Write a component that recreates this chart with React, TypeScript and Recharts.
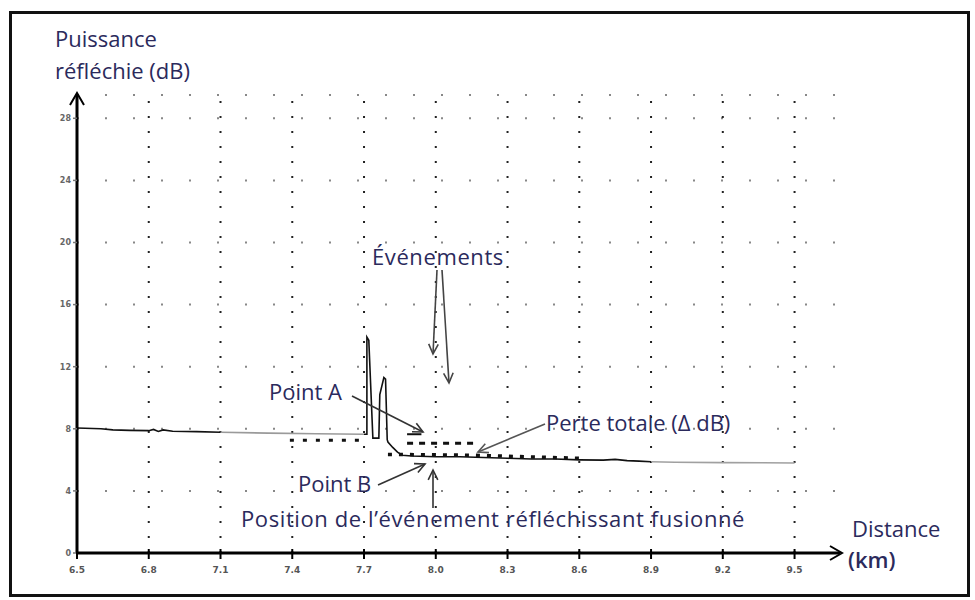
import React from 'react';
import { ComposedChart, Line, XAxis, YAxis, CartesianGrid, ReferenceLine } from 'recharts';

// OTDR trace, distance in km, reflected power in dB
const xTicks = [6.5, 6.8, 7.1, 7.4, 7.7, 8.0, 8.3, 8.6, 8.9, 9.2, 9.5];
const xTickLabels = ['6.5', '6.8', '7.1', '7.4', '7.7', '8.0', '8.3', '8.6', '8.9', '9.2', '9.5'];
const yTicks = [0, 4, 8, 12, 16, 20, 24, 28];

const traceStart = [
  { x: 6.5, y: 8.05 }, { x: 6.6, y: 8.0 }, { x: 6.65, y: 7.93 }, { x: 6.72, y: 7.9 },
  { x: 6.8, y: 7.88 }, { x: 6.82, y: 7.96 }, { x: 6.84, y: 7.83 }, { x: 6.86, y: 7.93 },
  { x: 6.9, y: 7.84 }, { x: 7.0, y: 7.82 }, { x: 7.1, y: 7.78 },
];
const traceFaded = [
  { x: 7.1, y: 7.78 }, { x: 7.3, y: 7.72 }, { x: 7.5, y: 7.68 }, { x: 7.7, y: 7.65 },
];
const traceEvent = [
  { x: 7.7, y: 7.65 }, { x: 7.712, y: 7.65 }, { x: 7.712, y: 13.9 }, { x: 7.72, y: 13.7 },
  { x: 7.737, y: 7.4 }, { x: 7.762, y: 7.4 }, { x: 7.766, y: 10.2 }, { x: 7.783, y: 11.3 },
  { x: 7.79, y: 11.2 }, { x: 7.797, y: 7.3 }, { x: 7.8, y: 7.15 }, { x: 7.82, y: 6.8 },
  { x: 7.84, y: 6.5 }, { x: 7.86, y: 6.3 }, { x: 7.9, y: 6.25 }, { x: 8.0, y: 6.2 },
  { x: 8.1, y: 6.2 }, { x: 8.2, y: 6.15 }, { x: 8.3, y: 6.1 }, { x: 8.4, y: 6.05 },
  { x: 8.5, y: 6.05 }, { x: 8.6, y: 6.0 }, { x: 8.7, y: 5.98 }, { x: 8.75, y: 6.03 },
  { x: 8.8, y: 5.95 }, { x: 8.85, y: 5.92 }, { x: 8.9, y: 5.88 },
];
const traceEnd = [
  { x: 8.9, y: 5.88 }, { x: 9.0, y: 5.85 }, { x: 9.2, y: 5.82 }, { x: 9.5, y: 5.8 },
];
const levelBefore = [{ x: 7.39, y: 7.27 }, { x: 7.7, y: 7.27 }];
const levelPointA = [{ x: 7.88, y: 7.07 }, { x: 8.18, y: 7.07 }];
const barPointA = [{ x: 7.88, y: 7.65 }, { x: 7.94, y: 7.65 }];
const levelPointB = [{ x: 7.8, y: 6.35 }, { x: 8.15, y: 6.3 }, { x: 8.6, y: 6.1 }];

const ink = '#2b2a5c';
const font = '"Open Sans", sans-serif';

const Arrow = ({ x1, y1, x2, y2, color = '#444', w = 1.6 }) => {
  const a = Math.atan2(y2 - y1, x2 - x1);
  const L = 11, s = 0.45;
  const p1 = [x2 - L * Math.cos(a - s), y2 - L * Math.sin(a - s)];
  const p2 = [x2 - L * Math.cos(a + s), y2 - L * Math.sin(a + s)];
  return (
    <g stroke={color} strokeWidth={w} fill="none">
      <line x1={x1} y1={y1} x2={x2} y2={y2} />
      <polyline points={`${p1[0]},${p1[1]} ${x2},${y2} ${p2[0]},${p2[1]}`} />
    </g>
  );
};

const XTick = ({ x, y, payload }) => (
  <g>
    <line x1={x} x2={x} y1={y - 12} y2={y - 2} stroke="#000" strokeWidth={2} />
    <text x={x} y={y + 12} textAnchor="middle" fontSize={9} fontWeight="bold" fill="#555" fontFamily="DejaVu Sans">
      {xTickLabels[xTicks.indexOf(payload.value)]}
    </text>
  </g>
);

export default function App() {
  return (
    <div style={{ position: 'absolute', left: 0, top: 0, width: 975, height: 600, background: '#fff' }}>
      <div style={{ position: 'absolute', left: 9, top: 11, width: 961, height: 586, border: '3px solid #111', boxSizing: 'border-box' }} />
      <div style={{ position: 'absolute', left: 0, top: 0 }}>
        <ComposedChart width={975} height={600} data={traceStart} margin={{ top: 95, right: 135, bottom: 22, left: 52 }}>
          <CartesianGrid vertical={false} stroke="#888" strokeDasharray="2 26" strokeWidth={2} />
          {xTicks.slice(1).map((t) => (
            <ReferenceLine key={t} x={t} stroke="#222" strokeDasharray="2 13" strokeWidth={2} />
          ))}
          <XAxis
            dataKey="x"
            type="number"
            domain={[6.5, 9.69]}
            ticks={xTicks}
            allowDataOverflow
            interval={0}
            tick={<XTick />}
            tickLine={false}
            height={25}
            axisLine={{ stroke: '#000', strokeWidth: 3 }}
          />
          <YAxis
            type="number"
            domain={[0, 29.5]}
            ticks={yTicks}
            interval={0}
            width={25}
            tickSize={4}
            tickLine={{ stroke: '#777', strokeWidth: 1.5 }}
            tick={{ fontSize: 8, fontWeight: 'bold', fill: '#666', fontFamily: 'DejaVu Sans' }}
            axisLine={{ stroke: '#000', strokeWidth: 3 }}
          />
          <Line data={traceStart} dataKey="y" stroke="#111" strokeWidth={1.6} dot={false} isAnimationActive={false} />
          <Line data={traceFaded} dataKey="y" stroke="#9a9a9a" strokeWidth={1.6} dot={false} isAnimationActive={false} />
          <Line data={traceEvent} dataKey="y" stroke="#111" strokeWidth={1.6} dot={false} isAnimationActive={false} />
          <Line data={traceEnd} dataKey="y" stroke="#a0a0a0" strokeWidth={1.6} dot={false} isAnimationActive={false} />
          <Line data={levelBefore} dataKey="y" stroke="#111" strokeWidth={3} strokeDasharray="4 9" dot={false} isAnimationActive={false} />
          <Line data={levelPointA} dataKey="y" stroke="#111" strokeWidth={3} strokeDasharray="6 6" dot={false} isAnimationActive={false} />
          <Line data={barPointA} dataKey="y" stroke="#111" strokeWidth={2} dot={false} isAnimationActive={false} />
          <Line data={levelPointB} dataKey="y" stroke="#111" strokeWidth={3.5} strokeDasharray="4 7" dot={false} isAnimationActive={false} />
        </ComposedChart>
      </div>
      <svg width={975} height={600} style={{ position: 'absolute', left: 0, top: 0, pointerEvents: 'none' }}>
        {/* axis arrowheads */}
        <polyline points="70,105 77,93 84,105" fill="none" stroke="#000" strokeWidth={2} />
        <polyline points="830,546 842,553 830,560" fill="none" stroke="#000" strokeWidth={2} />
        {/* annotation arrows */}
        <Arrow x1={437} y1={270} x2={433} y2={354} />
        <Arrow x1={442} y1={270} x2={449} y2={383} />
        <Arrow x1={352} y1={396} x2={423} y2={432} color="#333" />
        <Arrow x1={545} y1={424} x2={478} y2={452} color="#555" />
        <Arrow x1={378} y1={485} x2={425} y2={464} color="#333" />
        <Arrow x1={433} y1={508} x2={433} y2={470} color="#333" />
        <g fontFamily={font} fill={ink} fontSize={22}>
          <text x={55} y={47}>Puissance</text>
          <text x={55} y={79}>réfléchie (dB)</text>
          <text x={852} y={537}>Distance</text>
          <text x={848} y={568} fontWeight={600}>(km)</text>
          <text x={372} y={265} letterSpacing={0.6}>Événements</text>
          <text x={269} y={400}>Point A</text>
          <text x={546} y={431}>Perte totale (Δ dB)</text>
          <text x={298} y={492}>Point B</text>
          <text x={241} y={527} letterSpacing={0.6}>Position de l’événement réfléchissant fusionné</text>
        </g>
      </svg>
    </div>
  );
}
